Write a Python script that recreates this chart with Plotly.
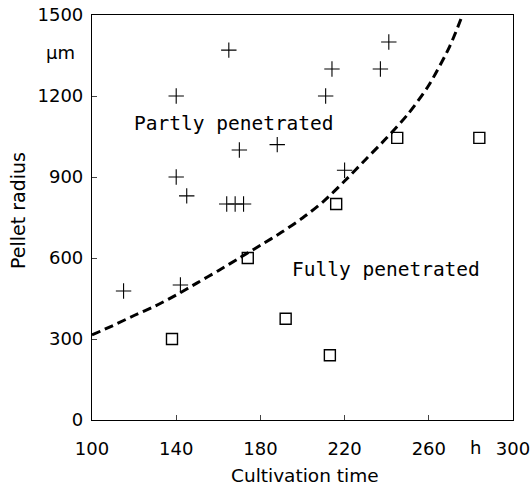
import plotly.graph_objects as go

# Partly penetrated (plus markers)
partly_x = [115, 142, 140, 140, 145, 164, 168, 172, 170, 165, 188, 211, 214, 220, 237, 241]
partly_y = [478, 500, 1200, 900, 830, 800, 800, 800, 1000, 1370, 1020, 1200, 1300, 925, 1300, 1400]

# Fully penetrated (open squares)
fully_x = [138, 174, 192, 213, 216, 245, 284]
fully_y = [300, 600, 375, 240, 800, 1045, 1045]

# Boundary curve (dashed)
curve_x = [100, 110, 120, 130, 140, 150, 160, 170, 180, 190, 200, 210, 220, 230, 240, 250, 260, 270, 276]
curve_y = [315, 350, 387, 422, 463, 508, 553, 600, 647, 695, 748, 810, 885, 965, 1045, 1132, 1240, 1385, 1500]

x_ticks = [100, 140, 180, 220, 260, 300]
y_ticks = [0, 300, 600, 900, 1200, 1500]

FONT = "DejaVu Sans"
MONO = "DejaVu Sans Mono"
fig = go.Figure()
fig.add_trace(go.Scatter(x=curve_x, y=curve_y, mode="lines",
                         line=dict(color="black", width=3, dash="9px,5px",
                                   shape="spline", smoothing=0.8),
                         hoverinfo="skip", showlegend=False))
fig.add_trace(go.Scatter(x=partly_x, y=partly_y, mode="markers",
                         marker=dict(symbol="cross-thin", size=11,
                                     line=dict(color="black", width=1.1)),
                         showlegend=False))
fig.add_trace(go.Scatter(x=fully_x, y=fully_y, mode="markers",
                         marker=dict(symbol="square-open", size=11, color="black",
                                     line=dict(color="black", width=1.4)),
                         showlegend=False))

fig.add_annotation(x=167.5, y=1100, text="Partly penetrated", showarrow=False,
                   font=dict(family=MONO, size=19.5, color="black"))
fig.add_annotation(x=239.7, y=559, text="Fully penetrated", showarrow=False,
                   font=dict(family=MONO, size=19.5, color="black"))
fig.add_annotation(xref="paper", x=0, xanchor="right", xshift=-15, y=1360,
                   text="μm", showarrow=False,
                   font=dict(family=FONT, size=18, color="black"))
fig.add_annotation(yref="paper", y=0, yanchor="top", yshift=-15, x=282,
                   text="h", showarrow=False,
                   font=dict(family=FONT, size=18, color="black"))
# axis titles
fig.add_annotation(xref="paper", yref="paper", x=(304.5 - 92) / 421, y=(420 - 475) / 405,
                   xanchor="center", yanchor="middle",
                   text="Cultivation time", showarrow=False,
                   font=dict(family=FONT, size=18.5, color="black"))
fig.add_annotation(xref="paper", yref="paper", x=(18 - 92) / 421, y=(420 - 211) / 405,
                   xanchor="center", yanchor="middle",
                   text="Pellet radius", showarrow=False, textangle=-90,
                   font=dict(family=FONT, size=19, color="black"))

fig.update_xaxes(range=[100, 300], tickvals=x_ticks, ticks="inside", ticklen=5,
                 ticklabelstandoff=12, automargin=False,
                 showline=True, linecolor="black", linewidth=1.2, mirror=True,
                 showgrid=False, zeroline=False,
                 tickfont=dict(family=FONT, size=18, color="black"))
fig.update_yaxes(range=[0, 1500], tickvals=y_ticks, ticks="inside", ticklen=5,
                 ticklabelstandoff=4, automargin=False,
                 showline=True, linecolor="black", linewidth=1.2, mirror=True,
                 showgrid=False, zeroline=False,
                 tickfont=dict(family=FONT, size=18, color="black"))

fig.update_layout(width=531, height=490, margin=dict(l=92, r=18, t=15, b=70),
                  plot_bgcolor="white", paper_bgcolor="white")

fig.write_html("out.html")
